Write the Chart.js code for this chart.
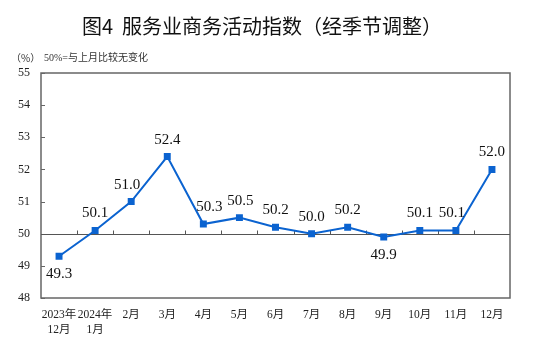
<!DOCTYPE html>
<html lang="zh">
  <head>
    <meta charset="UTF-8" />
    <title>服务业商务活动指数</title>
    <script src="https://cdn.jsdelivr.net/npm/chart.js"></script>
    <style>
      html, body { margin: 0; padding: 0; background: #fff; }
      #wrap { width: 550px; height: 341px; position: relative; }
    </style>
  </head>
  <body>
    <div id="wrap"><canvas id="pmiChart"></canvas></div>

    <script>
      // 月份与指数
      const months = [
        ["2023年", "12月"], ["2024年", "1月"], "2月", "3月", "4月", "5月",
        "6月", "7月", "8月", "9月", "10月", "11月", "12月"
      ];
      const indexValues = [49.3, 50.1, 51.0, 52.4, 50.3, 50.5, 50.2, 50.0, 50.2, 49.9, 50.1, 50.1, 52.0];
      // 标签放在点的下方的月份
      const labelBelow = [true, false, false, false, false, false, false, false, false, true, false, false, false];
      const yTicks = [48, 49, 50, 51, 52, 53, 54, 55];

      const serif = '"Liberation Serif", "Noto Sans CJK SC", serif';
      const lineBlue = "#0b63d0";
      // 数值标签的水平微调，避免压线
      const labelNudge = [0, 0, -4, 0, 6, 1, 0, 0, 0, 0, 0, -4, 0];

      // 标题、边框、50线及数值标签
      const decor = {
        id: "decor",
        beforeDatasetsDraw(chart) {
          const { ctx, chartArea: a, scales: { x, y } } = chart;
          ctx.save();
          // 外框
          ctx.strokeStyle = "#666";
          ctx.lineWidth = 1.5;
          ctx.strokeRect(a.left, a.top, a.right - a.left, a.bottom - a.top);
          // y 轴刻度（向内）
          ctx.lineWidth = 1;
          yTicks.forEach(v => {
            const py = Math.round(y.getPixelForValue(v)) + 0.5;
            ctx.beginPath();
            ctx.moveTo(a.left, py);
            ctx.lineTo(a.left + 4, py);
            ctx.stroke();
          });
          // 50 基准线和类别分隔刻度
          const y50 = Math.round(y.getPixelForValue(50)) + 0.5;
          ctx.strokeStyle = "#555";
          ctx.lineWidth = 1.2;
          ctx.beginPath();
          ctx.moveTo(a.left, y50);
          ctx.lineTo(a.right, y50);
          ctx.stroke();
          ctx.lineWidth = 1;
          for (let i = 1; i < months.length; i++) {
            const px = Math.round((x.getPixelForValue(i - 1) + x.getPixelForValue(i)) / 2) + 0.5;
            ctx.beginPath();
            ctx.moveTo(px, y50);
            ctx.lineTo(px, y50 - 4);
            ctx.stroke();
          }
          ctx.restore();
        },
        afterDraw(chart) {
          const { ctx, scales: { x, y } } = chart;
          ctx.save();
          ctx.fillStyle = "#111";
          ctx.textAlign = "center";
          ctx.textBaseline = "middle";
          ctx.font = '20px "Noto Sans CJK SC", sans-serif';
          ctx.fillText("图4  服务业商务活动指数（经季节调整）", 262, 26);

          ctx.textAlign = "left";
          ctx.font = '10px "Noto Sans CJK SC", sans-serif';
          ctx.fillStyle = "#333";
          ctx.fillText("（%）", 11, 58);
          ctx.font = '10px ' + serif;
          ctx.fillText("50%=与上月比较无变化", 44, 58);

          ctx.textAlign = "center";
          ctx.font = "15px " + serif;
          ctx.fillStyle = "#111";
          indexValues.forEach((v, i) => {
            const px = x.getPixelForValue(i) + labelNudge[i];
            const py = y.getPixelForValue(v);
            ctx.fillText(v.toFixed(1), px, labelBelow[i] ? py + 18 : py - 17);
          });
          ctx.restore();
        }
      };

      new Chart(document.getElementById("pmiChart"), {
        type: "line",
        data: {
          labels: months,
          datasets: [{
            data: indexValues,
            borderColor: lineBlue,
            backgroundColor: lineBlue,
            borderWidth: 2,
            pointStyle: "rect",
            pointRadius: 3.5,
            pointHoverRadius: 3.5,
            tension: 0,
            fill: false
          }]
        },
        options: {
          responsive: true,
          maintainAspectRatio: false,
          animation: false,
          layout: { padding: { left: 0, top: 73, right: 40, bottom: 0 } },
          plugins: {
            legend: { display: false },
            tooltip: { enabled: false }
          },
          scales: {
            x: {
              offset: true,
              grid: { display: false, drawTicks: false },
              border: { display: false },
              ticks: {
                color: "#222",
                padding: 10,
                maxRotation: 0,
                autoSkip: false,
                font: { family: serif, size: 11.5, lineHeight: 1.3 }
              },
              afterFit(scale) { scale.height = 43; }
            },
            y: {
              min: 48,
              max: 55,
              grid: { display: false, drawTicks: false },
              border: { display: false },
              ticks: {
                stepSize: 1,
                color: "#222",
                padding: 11,
                font: { family: serif, size: 12 }
              },
              afterFit(scale) { scale.width = 41; }
            }
          }
        },
        plugins: [decor]
      });
    </script>
  </body>
</html>
